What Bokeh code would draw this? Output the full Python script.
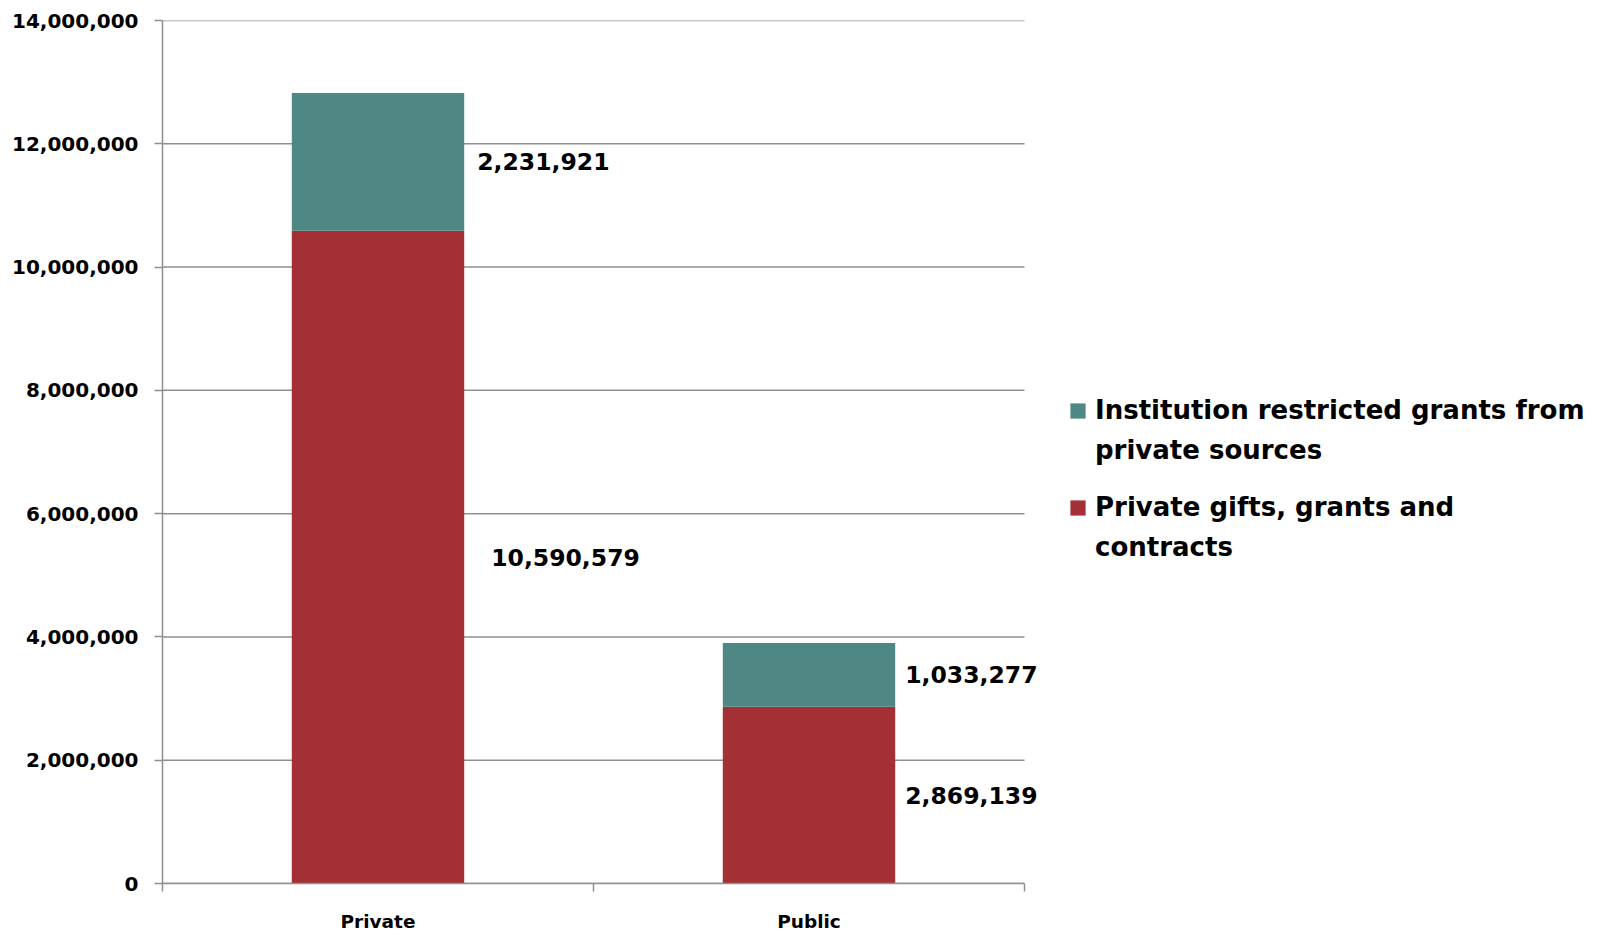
from bokeh.plotting import figure
from bokeh.models import (Range1d, ColumnDataSource, Legend, LegendItem,
                          FixedTicker, NumeralTickFormatter, LabelSet)
from bokeh.core.properties import value
from bokeh.embed import file_html
from bokeh.resources import INLINE

# ---- data ----
categories = ["Private", "Public"]
gifts_grants_contracts = [10590579, 2869139]
institution_restricted = [2231921, 1033277]
series_lines = [["Private gifts, grants and", "contracts"],
                ["Institution restricted grants from", "private sources"]]
y_ticks = [0, 2000000, 4000000, 6000000, 8000000, 10000000, 12000000, 14000000]

RED = "#A33034"
TEAL = "#4E8783"
GRID = "#8F8F8F"
FONT = "DejaVu Sans"

W, H = 1600, 934
LEFT, TOP, BOTTOM, RIGHT = 162, 20, 50, 10
PLOT_PX = 862  # width of the category area in pixels
n = len(categories)
centers = [i + 0.5 for i in range(n)]
edges = list(range(n + 1))
x_end = n * (W - LEFT - RIGHT) / PLOT_PX

p = figure(x_range=Range1d(0, x_end),
           y_range=Range1d(0, 14000000),
           width=W, height=H,
           output_backend="svg", toolbar_location=None,
           min_border_left=LEFT, min_border_top=TOP,
           min_border_right=RIGHT, min_border_bottom=BOTTOM)
p.outline_line_color = None
p.background_fill_color = "white"
p.xgrid.grid_line_color = None
p.ygrid.grid_line_color = None

# ---- grid lines limited to the category area ----
p.segment(x0=[0] * len(y_ticks), x1=[n] * len(y_ticks), y0=y_ticks, y1=y_ticks,
          line_color=GRID, line_width=1.5)

src = ColumnDataSource(dict(x=centers, gifts=gifts_grants_contracts,
                            inst=institution_restricted))
rs = p.vbar_stack(["gifts", "inst"], x="x", width=0.4, source=src,
                  color=[RED, TEAL], line_color=None)

# ---- data labels ----
lab_x, lab_y, lab_txt, lab_off = [], [], [], []
offsets_red = [27, 10]
offsets_teal = [13, 10]
for i, c in enumerate(categories):
    g = gifts_grants_contracts[i]
    t = institution_restricted[i]
    lab_x += [centers[i] + 0.2, centers[i] + 0.2]
    lab_y += [g / 2.0, g + t / 2.0]
    lab_txt += ["{:,}".format(g), "{:,}".format(t)]
    lab_off += [offsets_red[i], offsets_teal[i]]
lsrc = ColumnDataSource(dict(x=lab_x, y=lab_y, text=lab_txt, off=lab_off))
labels = LabelSet(x="x", y="y", text="text",
                  x_offset="off", source=lsrc,
                  text_font=value(FONT), text_font_style="bold",
                  text_font_size="23.5px", text_color="black",
                  text_align="left", text_baseline="middle")
p.add_layout(labels)

# ---- y axis ----
ya = p.yaxis[0]
ya.ticker = FixedTicker(ticks=y_ticks)
ya.formatter = NumeralTickFormatter(format="0,0")
ya.axis_line_color = GRID
ya.axis_line_width = 1.5
ya.major_tick_line_color = GRID
ya.major_tick_line_width = 1.5
ya.major_tick_out = 8
ya.major_tick_in = 0
ya.minor_tick_line_color = None
ya.major_label_standoff = 16
ya.major_label_text_font = FONT
ya.major_label_text_font_style = "bold"
ya.major_label_text_font_size = "20px"
ya.major_label_text_color = "black"

# ---- x axis: labels at centres, ticks at category edges ----
xa = p.xaxis[0]
xa.bounds = (0, n)
xa.ticker = FixedTicker(ticks=centers, minor_ticks=edges)
xa.major_label_overrides = {c: name for c, name in zip(centers, categories)}
xa.axis_line_color = GRID
xa.axis_line_width = 1.5
xa.major_tick_line_color = None
xa.major_tick_out = 0
xa.major_tick_in = 0
xa.minor_tick_line_color = GRID
xa.minor_tick_line_width = 1.5
xa.minor_tick_out = 8
xa.minor_tick_in = 0
xa.major_label_standoff = 19
xa.major_label_text_font = FONT
xa.major_label_text_font_style = "bold"
xa.major_label_text_font_size = "18.5px"
xa.major_label_text_color = "black"

# ---- legend: one legend per series, one row per text line ----
blank = p.scatter(x=[], y=[], size=0, fill_alpha=0, line_alpha=0)


def make_legend(renderer, lines, loc):
    items = [LegendItem(label=lines[0], renderers=[renderer])]
    items += [LegendItem(label=ln, renderers=[blank]) for ln in lines[1:]]
    lg = Legend(items=items, location=loc)
    lg.padding = 0
    lg.margin = 0
    lg.border_line_color = None
    lg.background_fill_alpha = 0
    lg.glyph_width = 19
    lg.glyph_height = 19
    lg.label_standoff = 8
    lg.spacing = 10
    lg.label_text_font = FONT
    lg.label_text_font_style = "bold"
    lg.label_text_font_size = "26px"
    lg.label_text_color = "black"
    p.add_layout(lg)


make_legend(rs[1], series_lines[1], (906, 418))
make_legend(rs[0], series_lines[0], (906, 321))

open("out.html", "w").write(file_html(p, INLINE))
